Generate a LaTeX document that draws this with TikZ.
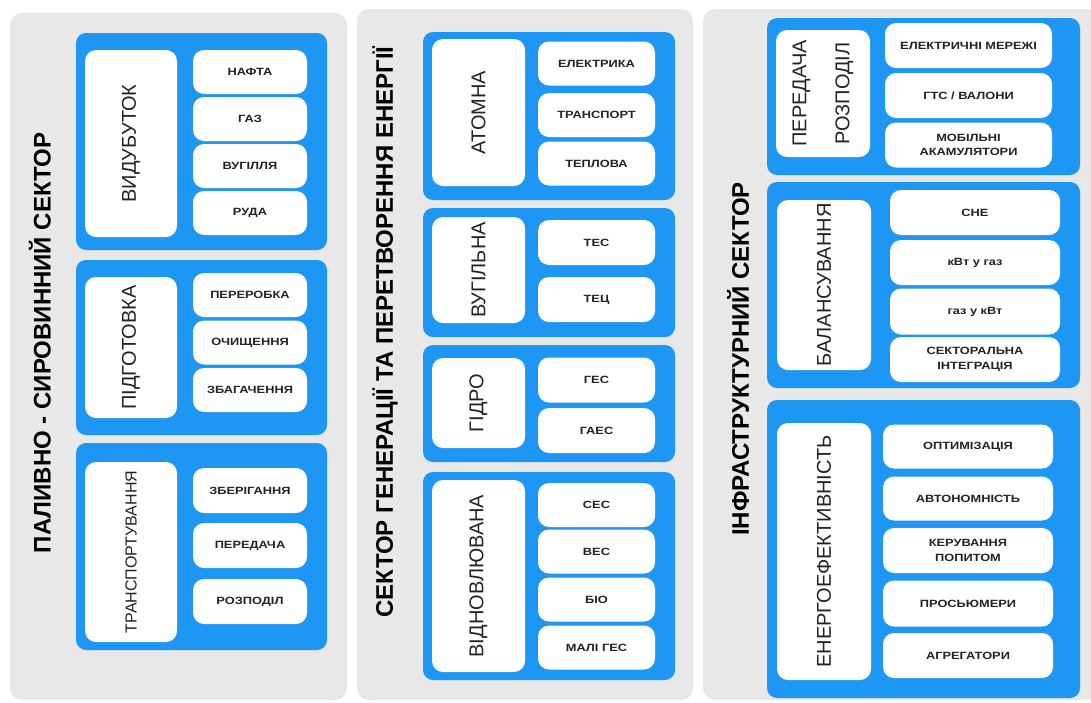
\documentclass[tikz,border=0pt]{standalone}
\usepackage{fontspec}
\setmainfont{Liberation Sans}
\newfontfamily\itemfont[FakeStretch=1.22]{Liberation Sans}

\definecolor{panelgray}{RGB}{232,232,232}
\definecolor{groupblue}{RGB}{30,150,243}
\definecolor{textdark}{RGB}{35,35,35}

\tikzset{
  panelbox/.style={fill=panelgray, rounded corners=12pt, inner sep=0pt},
  groupbox/.style={fill=groupblue, rounded corners=10pt, inner sep=0pt},
  labelbox/.style={fill=white, rounded corners=11pt, rotate=90, inner sep=0pt, align=center,
    font=\fontsize{20}{24}\selectfont, text=textdark},
  itembox/.style={fill=white, rounded corners=11pt, inner sep=0pt, align=center,
    font=\itemfont\bfseries\fontsize{10.5}{14.5}\selectfont, text=textdark},
  sectortitle/.style={rotate=90, font=\bfseries\fontsize{24}{28}\selectfont, text=black},
}

\begin{document}
\begin{tikzpicture}[x=1pt,y=-1pt]
    \useasboundingbox (0,0) rectangle (1091,702);
    % Draw the three sector panels
    \node[panelbox, minimum width=337pt, minimum height=687pt] (fuel) at (178.5,356.5) {};
    \node[panelbox, minimum width=336pt, minimum height=691pt] (gen) at (525,354.5) {};
    \node[panelbox, minimum width=397pt, minimum height=691pt] (infra) at (901.5,354.5) {};
    % Sector titles
    \node[sectortitle] (fueltitle) at (40,343) {ПАЛИВНО - СИРОВИННИЙ СЕКТОР};
    \node[sectortitle] (gentitle) at (385,332) {СЕКТОР ГЕНЕРАЦІЇ ТА ПЕРЕТВОРЕННЯ ЕНЕРГІЇ};
    \node[sectortitle] (infratitle) at (738,359) {ІНФРАСТРУКТУРНИЙ СЕКТОР};

    % Fuel sector: extraction
    \node[groupbox, minimum width=251pt, minimum height=217pt] (extr) at (201.5,141.5) {};
    \node[labelbox, minimum width=187pt, minimum height=92pt] (extrlbl) at (131,143.5) {ВИДУБУТОК};
    \node[itembox, minimum width=114pt, minimum height=44pt] (oil) at (250,72) {НАФТА};
    \node[itembox, minimum width=114pt, minimum height=44pt] (gas) at (250,119) {ГАЗ};
    \node[itembox, minimum width=114pt, minimum height=44pt] (coal) at (250,166) {ВУГІЛЛЯ};
    \node[itembox, minimum width=114pt, minimum height=44pt] (ore) at (250,213) {РУДА};
    % Fuel sector: preparation
    \node[groupbox, minimum width=251pt, minimum height=175pt] (prep) at (201.5,347.5) {};
    \node[labelbox, minimum width=141pt, minimum height=92pt] (preplbl) at (131,347.5) {ПІДГОТОВКА};
    \node[itembox, minimum width=114pt, minimum height=44pt] (refine) at (250,295) {ПЕРЕРОБКА};
    \node[itembox, minimum width=114pt, minimum height=44pt] (clean) at (250,342.5) {ОЧИЩЕННЯ};
    \node[itembox, minimum width=114pt, minimum height=44pt] (enrich) at (250,390) {ЗБАГАЧЕННЯ};
    % Fuel sector: transportation
    \node[groupbox, minimum width=251pt, minimum height=207pt] (trans) at (201.5,546.5) {};
    \node[labelbox, minimum width=180pt, minimum height=92pt, font=\fontsize{16}{19}\selectfont] (translbl) at (131,552) {ТРАНСПОРТУВАННЯ};
    \node[itembox, minimum width=114pt, minimum height=45pt] (store) at (250,490.5) {ЗБЕРІГАННЯ};
    \node[itembox, minimum width=114pt, minimum height=45pt] (transmit) at (250,545.5) {ПЕРЕДАЧА};
    \node[itembox, minimum width=114pt, minimum height=45pt] (distrib) at (250,601.5) {РОЗПОДІЛ};

    % Generation sector: nuclear
    \node[groupbox, minimum width=252pt, minimum height=168pt] (nuc) at (549,116) {};
    \node[labelbox, minimum width=147pt, minimum height=93pt] (nuclbl) at (478.5,112.5) {АТОМНА};
    \node[itembox, minimum width=117pt, minimum height=44pt] (elec) at (596.5,63.5) {ЕЛЕКТРИКА};
    \node[itembox, minimum width=117pt, minimum height=44pt] (nuctrans) at (596.5,115) {ТРАНСПОРТ};
    \node[itembox, minimum width=117pt, minimum height=44pt] (heat) at (596.5,163.5) {ТЕПЛОВА};
    % Generation sector: coal
    \node[groupbox, minimum width=252pt, minimum height=129pt] (coalgen) at (549,272.5) {};
    \node[labelbox, minimum width=106pt, minimum height=93pt] (coallbl) at (478.5,270) {ВУГІЛЬНА};
    \node[itembox, minimum width=117pt, minimum height=45pt] (tes) at (596.5,242.5) {ТЕС};
    \node[itembox, minimum width=117pt, minimum height=45pt] (tec) at (596.5,299.5) {ТЕЦ};
    % Generation sector: hydro
    \node[groupbox, minimum width=252pt, minimum height=117pt] (hydro) at (549,403.5) {};
    \node[labelbox, minimum width=90pt, minimum height=93pt] (hydrolbl) at (478.5,403) {ГІДРО};
    \node[itembox, minimum width=117pt, minimum height=45pt] (hes) at (596.5,380) {ГЕС};
    \node[itembox, minimum width=117pt, minimum height=45pt] (haes) at (596.5,430.5) {ГАЕС};
    % Generation sector: renewable
    \node[groupbox, minimum width=252pt, minimum height=208pt] (renew) at (549,576) {};
    \node[labelbox, minimum width=192pt, minimum height=93pt] (renewlbl) at (478.5,576) {ВІДНОВЛЮВАНА};
    \node[itembox, minimum width=117pt, minimum height=44pt] (ses) at (596.5,505) {СЕС};
    \node[itembox, minimum width=117pt, minimum height=44pt] (wes) at (596.5,551.5) {ВЕС};
    \node[itembox, minimum width=117pt, minimum height=44pt] (bio) at (596.5,599.5) {БІО};
    \node[itembox, minimum width=117pt, minimum height=44pt] (smallhes) at (596.5,647.5) {МАЛІ ГЕС};

    % Infrastructure sector: transmission and distribution
    \node[groupbox, minimum width=313pt, minimum height=157pt] (grid) at (923.5,96.5) {};
    \node[labelbox, minimum width=127pt, minimum height=94pt] (gridlbl) at (823,93.5) {ПЕРЕДАЧА\\[19pt]РОЗПОДІЛ};
    \node[itembox, minimum width=167pt, minimum height=45pt] (nets) at (968.5,45.5) {ЕЛЕКТРИЧНІ МЕРЕЖІ};
    \node[itembox, minimum width=167pt, minimum height=45pt] (gts) at (968.5,95.5) {ГТС / ВАЛОНИ};
    \node[itembox, minimum width=167pt, minimum height=45pt] (batt) at (968.5,145) {МОБІЛЬНІ\\АКАМУЛЯТОРИ};
    % Infrastructure sector: balancing
    \node[groupbox, minimum width=313pt, minimum height=206pt] (bal) at (923.5,285) {};
    \node[labelbox, minimum width=170pt, minimum height=94pt] (ballbl) at (824,285) {БАЛАНСУВАННЯ};
    \node[itembox, minimum width=170pt, minimum height=45pt] (sne) at (975,212.5) {СНЕ};
    \node[itembox, minimum width=170pt, minimum height=45pt] (p2g) at (975,262.5) {кВт у газ};
    \node[itembox, minimum width=170pt, minimum height=46pt] (g2p) at (975,311.5) {газ у кВт};
    \node[itembox, minimum width=170pt, minimum height=45pt] (integr) at (975,359.5) {СЕКТОРАЛЬНА\\ІНТЕГРАЦІЯ};
    % Infrastructure sector: energy efficiency
    \node[groupbox, minimum width=313pt, minimum height=298pt] (eff) at (923.5,549) {};
    \node[labelbox, minimum width=257pt, minimum height=94pt] (efflbl) at (824,551.5) {ЕНЕРГОЕФЕКТИВНІСТЬ};
    \node[itembox, minimum width=170pt, minimum height=44pt] (optim) at (968,446.5) {ОПТИМІЗАЦІЯ};
    \node[itembox, minimum width=170pt, minimum height=44pt] (auton) at (968,498.5) {АВТОНОМНІСТЬ};
    \node[itembox, minimum width=170pt, minimum height=45pt] (demand) at (968,550.5) {КЕРУВАННЯ\\ПОПИТОМ};
    \node[itembox, minimum width=170pt, minimum height=46pt] (prosum) at (968,603.5) {ПРОСЬЮМЕРИ};
    \node[itembox, minimum width=170pt, minimum height=45pt] (aggr) at (968,655.5) {АГРЕГАТОРИ};
\end{tikzpicture}
\end{document}
